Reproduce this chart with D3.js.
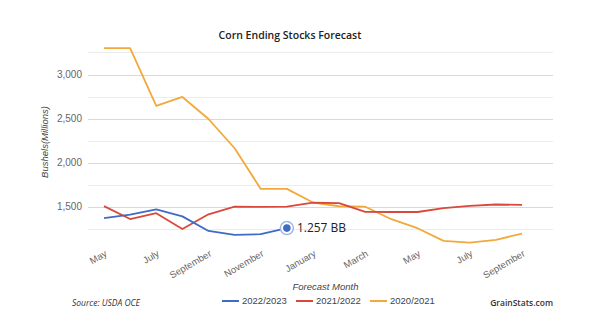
<!DOCTYPE html>
<html>
<head>
<meta charset="utf-8">
<script src="https://cdn.jsdelivr.net/npm/d3@7"></script>
<style>
  html, body { margin: 0; padding: 0; background: #fff; }
  svg { display: block; }
</style>
</head>
<body>
<svg id="chart" width="600" height="330"></svg>
<script>
// Forecast months, May through the following September (17 monthly reports)
const months = ["May", "June", "July", "August", "September", "October", "November", "December",
  "January", "February", "March", "April", "May", "June", "July", "August", "September"];

// Ending stocks forecasts, millions of bushels
const stocks2223 = [1370, 1410, 1470, 1390, 1225, 1180, 1188, 1257];
const stocks2122 = [1507, 1360, 1426, 1247, 1414, 1500, 1497, 1500, 1545, 1540, 1441, 1440, 1440, 1485, 1510, 1525, 1520];
const stocks2021 = [3300, 3300, 2643, 2745, 2495, 2163, 1702, 1702, 1547, 1505, 1500, 1358, 1256, 1112, 1093, 1124, 1195];

const seriesNames = ["2022/2023", "2021/2022", "2020/2021"];
const seriesColors = ["#3f6bc6", "#d9493b", "#f2a93b"];
const seriesValues = [stocks2223, stocks2122, stocks2021];

const yLabelTicks = [1500, 2000, 2500, 3000];
const gridTicks = [1250, 1500, 1750, 2000, 2250, 2500, 2750, 3000, 3250];

const svg = d3.select("#chart");
const plot = { left: 88, right: 553 };

const x = d3.scalePoint()
  .domain(d3.range(months.length))
  .range([104, 522]);

const y = d3.scaleLinear()
  .domain([1500, 3000])
  .range([206.7, 74.5]);

// Horizontal gridlines: labelled every 500, lighter halfway lines
svg.append("g")
  .selectAll("line")
  .data(gridTicks)
  .join("line")
  .attr("x1", plot.left)
  .attr("x2", plot.right)
  .attr("y1", d => Math.round(y(d)) + 0.5)
  .attr("y2", d => Math.round(y(d)) + 0.5)
  .attr("stroke", d => d % 500 === 0 ? "#d9d9d9" : "#ececec")
  .attr("stroke-width", 1);

// Y axis labels
const yAxis = d3.axisLeft(y)
  .tickValues(yLabelTicks)
  .tickFormat(d3.format(","))
  .tickSize(0)
  .tickPadding(6);
const gy = svg.append("g")
  .attr("transform", `translate(${plot.left},0)`)
  .call(yAxis);
gy.select(".domain").remove();
gy.selectAll("text")
  .attr("fill", "#666")
  .style("font-family", "'Liberation Sans', Arial, sans-serif")
  .style("font-size", "10px");

// X axis labels, every other month, slanted
const xAxis = d3.axisBottom(x)
  .tickValues(d3.range(0, months.length, 2))
  .tickFormat(i => months[i])
  .tickSize(0);
const gx = svg.append("g")
  .attr("transform", "translate(0,250)")
  .call(xAxis);
gx.select(".domain").remove();
gx.selectAll("text")
  .attr("fill", "#666")
  .style("font-family", "'Liberation Sans', Arial, sans-serif")
  .style("font-size", "9.5px")
  .attr("text-anchor", "end")
  .attr("dy", "0.35em")
  .attr("transform", "translate(0,0) rotate(-30)");

// Series lines
const line = d3.line()
  .x((d, i) => x(i))
  .y(d => y(d));

svg.append("g")
  .selectAll("path")
  .data(seriesValues.map((v, k) => ({ values: v, color: seriesColors[k] })).reverse())
  .join("path")
  .attr("d", d => line(d.values))
  .attr("fill", "none")
  .attr("stroke", d => d.color)
  .attr("stroke-width", 1.8)
  .attr("stroke-linejoin", "round");

// Latest 2022/2023 forecast, highlighted
const lastIdx = stocks2223.length - 1;
const lastVal = stocks2223[lastIdx];
const mark = svg.append("g")
  .attr("transform", `translate(${x(lastIdx)},${y(lastVal)})`);
mark.append("circle")
  .attr("r", 6.5)
  .attr("fill", "#fff")
  .attr("stroke", "#9fb6e3")
  .attr("stroke-width", 1.5);
mark.append("circle")
  .attr("r", 3.8)
  .attr("fill", seriesColors[0]);

svg.append("text")
  .attr("x", x(lastIdx) + 10)
  .attr("y", y(lastVal))
  .attr("dy", "0.35em")
  .attr("fill", "#222")
  .style("font-family", "'Open Sans', sans-serif")
  .style("font-size", "12px")
  .text(d3.format(".3f")(lastVal / 1000) + " BB");

// Title
svg.append("text")
  .attr("x", 290)
  .attr("y", 39)
  .attr("text-anchor", "middle")
  .attr("fill", "#222")
  .style("font-family", "'Open Sans', sans-serif")
  .style("font-weight", "600")
  .style("font-size", "10.5px")
  .text("Corn Ending Stocks Forecast");

// Axis titles
svg.append("text")
  .attr("transform", "translate(48,142) rotate(-90)")
  .attr("text-anchor", "middle")
  .attr("fill", "#444")
  .style("font-family", "'Liberation Sans', Arial, sans-serif")
  .style("font-style", "italic")
  .style("font-size", "9.5px")
  .text("Bushels(Millions)");

svg.append("text")
  .attr("x", (plot.left + plot.right) / 2 + 5)
  .attr("y", 290)
  .attr("text-anchor", "middle")
  .attr("fill", "#444")
  .style("font-family", "'Liberation Sans', Arial, sans-serif")
  .style("font-style", "italic")
  .style("font-size", "9.5px")
  .text("Forecast Month");

// Legend
const legend = svg.append("g")
  .attr("transform", "translate(222,301)");
const item = legend.selectAll("g")
  .data(seriesNames)
  .join("g")
  .attr("transform", (d, i) => `translate(${i * 74},0)`);
item.append("line")
  .attr("x1", 0).attr("x2", 17)
  .attr("y1", 0).attr("y2", 0)
  .attr("stroke", (d, i) => seriesColors[i])
  .attr("stroke-width", 2);
item.append("text")
  .attr("x", 20)
  .attr("dy", "0.35em")
  .attr("fill", "#444")
  .style("font-family", "'Liberation Sans', Arial, sans-serif")
  .style("font-size", "9.5px")
  .text(d => d);

// Footer notes
svg.append("text")
  .attr("x", 72)
  .attr("y", 306)
  .attr("fill", "#333")
  .style("font-family", "'Open Sans', sans-serif")
  .style("font-style", "italic")
  .style("font-size", "8.5px")
  .text("Source: USDA OCE");

svg.append("text")
  .attr("x", 553)
  .attr("y", 306)
  .attr("text-anchor", "end")
  .attr("fill", "#333")
  .style("font-family", "'Open Sans', sans-serif")
  .style("font-weight", "600")
  .style("font-size", "8.5px")
  .text("GrainStats.com");
</script>
</body>
</html>
